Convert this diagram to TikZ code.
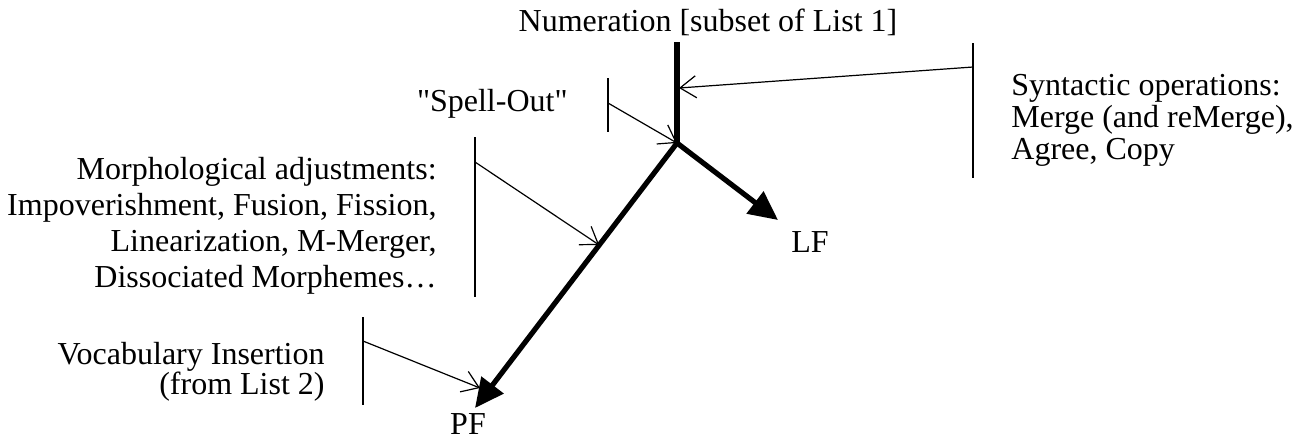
\documentclass[tikz,border=0pt]{standalone}
\usepackage{fontspec}
\setmainfont{Liberation Serif}
\usepackage{tikz}
\usetikzlibrary{arrows.meta,positioning,calc}

\begin{document}
\begin{tikzpicture}[
    x=0.5pt, y=-0.5pt,
    lbl/.style={
      inner sep=0pt, font=\fontsize{16}{16}\selectfont
    },
    bar/.style={line width=0.6pt},
    pointer/.style={-{Straight Barb[length=8pt,width=11pt]}, line width=0.6pt},
    deriv/.style={line width=2.6pt},
    branch/.style={-{Triangle[length=14.5pt,width=13.5pt]}, line width=2.6pt}
  ]
    \useasboundingbox (0,0) rectangle (1304,441);

    % Main derivation
    \node[lbl] (num) at (708,22) {Numeration [subset of List 1]};
    \coordinate (top) at (677,42);
    \coordinate (split) at (677,143);
    \coordinate (lftip) at (778,220);
    \coordinate (pftip) at (475,408);
    \node[lbl] (lf) at (810,242) {LF};
    \node[lbl] (pf) at (468,424) {PF};

    \draw[deriv] (top) -- (split);
    \draw[branch] (split) -- (lftip);
    \draw[branch] (split) -- (pftip);

    % Syntactic operations
    \node[lbl, anchor=west, align=left] (syn) at (1011,120)
      {Syntactic operations:\\Merge (and reMerge),\\Agree, Copy};
    \coordinate (synA) at (973,43);
    \coordinate (synB) at (973,178);
    \coordinate (synP) at (973,67);
    \draw[bar] (synA) -- (synB);
    \draw[pointer] (synP) -- (679,88);

    % Spell-Out
    \node[lbl, anchor=east] (spell) at (568,104)
      {\textquotedbl Spell-Out\textquotedbl};
    \coordinate (spA) at (608,78);
    \coordinate (spB) at (608,132);
    \coordinate (spP) at (608,103);
    \draw[bar] (spA) -- (spB);
    \draw[pointer] (spP) -- (split);

    % Morphological adjustments
    \node[lbl, anchor=east, align=right,
          font=\fontsize{16}{18}\selectfont] (morph) at (437,226)
      {Morphological adjustments:\\Impoverishment, Fusion, Fission,\\
       Linearization, M-Merger,\\Dissociated Morphemes\ldots};
    \coordinate (moA) at (475,137);
    \coordinate (moB) at (475,297);
    \coordinate (moP) at (475,162);
    \draw[bar] (moA) -- (moB);
    \draw[pointer] (moP) -- ($(split)!0.385!(pftip)$);

    % Vocabulary Insertion
    \node[lbl, anchor=east, align=right,
          font=\fontsize{16}{15}\selectfont] (vocab) at (325,372)
      {Vocabulary Insertion\\(from List 2)};
    \coordinate (voA) at (363,317);
    \coordinate (voB) at (363,405);
    \coordinate (voP) at (363,341);
    \draw[bar] (voA) -- (voB);
    \draw[pointer] (voP) -- (480,388);
\end{tikzpicture}
\end{document}
